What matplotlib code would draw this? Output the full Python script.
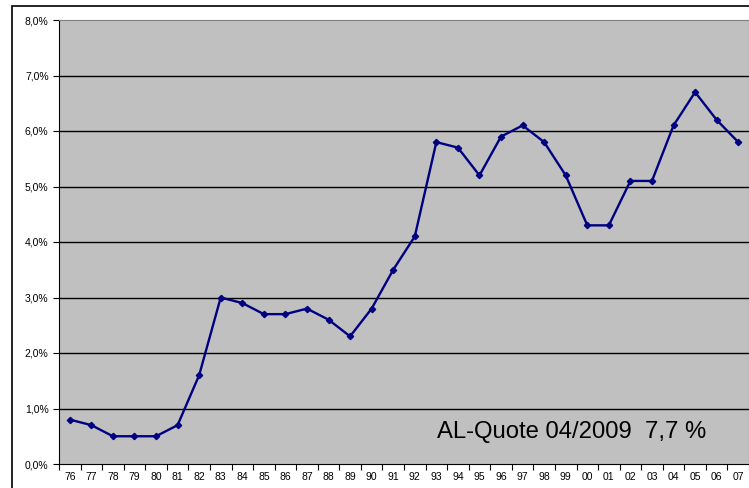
import matplotlib
matplotlib.use("Agg")
import matplotlib.pyplot as plt
from matplotlib.patches import Rectangle
from matplotlib.ticker import FixedLocator, FuncFormatter

plt.rcParams['font.family'] = ['Liberation Sans', 'DejaVu Sans']

# Jahre (Beschriftung) und Quote in Prozent
jahre = ['76', '77', '78', '79', '80', '81', '82', '83', '84', '85', '86',
         '87', '88', '89', '90', '91', '92', '93', '94', '95', '96', '97',
         '98', '99', '00', '01', '02', '03', '04', '05', '06', '07']
quote = [0.8, 0.7, 0.5, 0.5, 0.5, 0.7, 1.6, 3.0, 2.9, 2.7, 2.7,
         2.8, 2.6, 2.3, 2.8, 3.5, 4.1, 5.8, 5.7, 5.2, 5.9, 6.1,
         5.8, 5.2, 4.3, 4.3, 5.1, 5.1, 6.1, 6.7, 6.2, 5.8]
y_ticks = [0, 1, 2, 3, 4, 5, 6, 7, 8]
hinweis = 'AL-Quote 04/2009  7,7 %'

fig = plt.figure(figsize=(7.49, 4.88), dpi=100)
W, H = 749, 488

# Rahmen um das ganze Diagramm (wie in Excel)
fig.patches.append(Rectangle((12 / W, -0.1), 1.2, 1 - 6 / H + 0.1,
                             transform=fig.transFigure, fill=False,
                             edgecolor='black', linewidth=1.2))

ax = fig.add_axes([59 / W, 1 - 464 / H, (W - 59) / W, (464 - 20) / H])
ax.set_facecolor('#C0C0C0')

x = list(range(len(jahre)))
ax.plot(x, quote, color='#000080', linewidth=1.7, marker='D', markersize=3.2)

ax.set_xlim(-0.5, len(jahre) - 0.5)
ax.set_ylim(0, 8)

# Gitterlinien
for t in y_ticks[1:-1]:
    ax.axhline(t, color='black', linewidth=1, zorder=0.5)

ax.set_yticks(y_ticks)
ax.yaxis.set_major_formatter(FuncFormatter(lambda v, p: f'{v:.1f}%'.replace('.', ',')))
ax.set_xticks(x)
ax.set_xticklabels(jahre)
ax.xaxis.set_minor_locator(FixedLocator([i - 0.5 for i in range(len(jahre) + 1)]))
ax.tick_params(axis='x', which='major', length=0, labelsize=7.5, pad=6)
ax.tick_params(axis='x', which='minor', length=4, direction='out', width=0.8)
ax.tick_params(axis='y', length=4, direction='out', labelsize=7.5, width=0.8)

for s in ['top', 'right']:
    ax.spines[s].set_color('#808080')
ax.spines['left'].set_color('black')
ax.spines['bottom'].set_color('black')

ax.text(0.548, 0.072, hinweis, transform=ax.transAxes, fontsize=17.2,
        ha='left', va='center')

plt.savefig('out.png', dpi=100)
